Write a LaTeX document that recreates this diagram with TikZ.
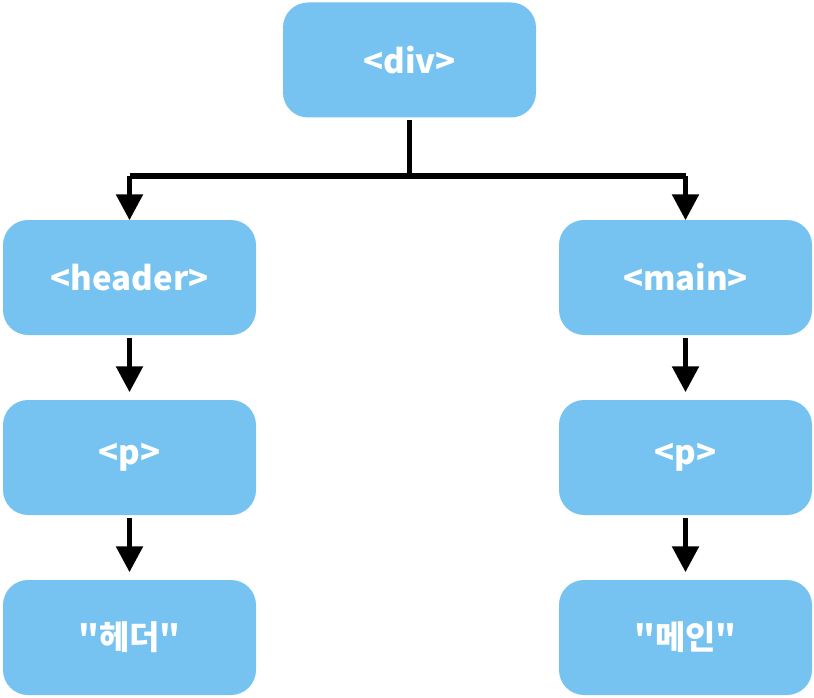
\documentclass[tikz,border=0pt]{standalone}
\usepackage{fontspec}
\newfontfamily\krfont{Noto Sans CJK KR}
\usetikzlibrary{arrows.meta,positioning}
\definecolor{boxblue}{HTML}{76C3F1}
\tikzset{tag/.style={fill=boxblue,rounded corners=25pt,minimum width=253pt,minimum height=115pt,inner sep=0pt,text=white,font=\krfont\bfseries\fontsize{33}{36}\selectfont}}
\begin{document}
\begin{tikzpicture}[x=1pt,y=-1pt,line width=5.5pt,>={Triangle[width=26pt,length=26pt]}]
		\useasboundingbox (0,0) rectangle (814,698);
		\node[tag] (div) at (409.5,60){<div>};
		\node[tag] (header) at (129.5,277.5){<header>};
		\node[tag] (hp) at (129.5,457.5){<p>};
		\node[tag] (htext) at (129.5,637.5){"헤더"};
		\node[tag] (main) at (685.5,277.5){<main>};
		\node[tag] (mp) at (685.5,457.5){<p>};
		\node[tag] (mtext) at (685.5,637.5){"메인"};
		\coordinate (j) at (409.5,176);
		\draw (div.south)--(j);
		\draw (j -| header)--(j -| main);
		\draw[->,shorten >=-3pt] (j -| header)--(header);
		\draw[->,shorten >=-3pt] (j -| main)--(main);
		\draw[->,shorten >=5pt] (header)--(hp);
		\draw[->,shorten >=5pt] (hp)--(htext);
		\draw[->,shorten >=5pt] (main)--(mp);
		\draw[->,shorten >=5pt] (mp)--(mtext);
		\end{tikzpicture}
\end{document}
